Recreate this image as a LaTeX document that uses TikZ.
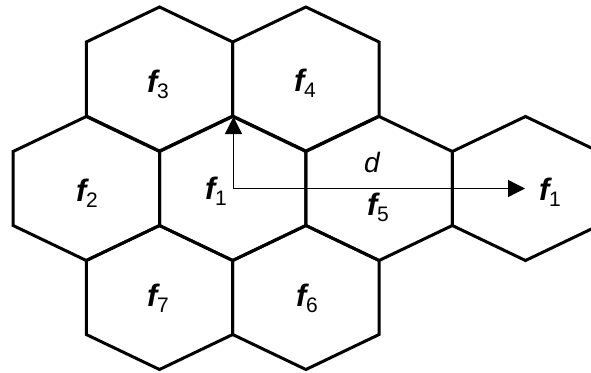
\documentclass[tikz,border=0pt]{standalone}
\usepackage{fontspec}
\setmainfont{Liberation Sans}
\usetikzlibrary{arrows.meta}
\newcommand{\fsub}[1]{{\bfseries\itshape f}\kern-0.5pt\raisebox{-6pt}{\fontsize{21}{21}\selectfont #1}}
\tikzset{hexline/.style={line width=3pt,line join=miter},
  arr/.style={-{Triangle[length=17pt,width=17pt]},line width=1.3pt},
  lbl/.style={anchor=base west,inner sep=0pt,font=\fontsize{31}{33}\selectfont}}

\begin{document}
\begin{tikzpicture}[x=1pt,y=-1pt]
\useasboundingbox (0,0) rectangle (591,372);
\clip (0,0) rectangle (591,372);
% cells
\foreach \cx/\cy in {159.5/79,305.9/79,86.3/188.5,232.7/188.5,379.1/188.5,525.5/188.5,159.5/297.5,305.9/297.5}
  \draw[hexline] (\cx,\cy) ++(0,-72) -- ++(73.2,35) -- ++(0,74) -- ++(-73.2,35)
    -- ++(-73.2,-35) -- ++(0,-74) -- cycle;
% labels
\node[lbl] (f3) at (147,92) {\fsub{3}};
\node[lbl] (f4) at (294,91) {\fsub{4}};
\node[lbl] (f2) at (76,201) {\fsub{2}};
\node[lbl] (f1) at (205,199) {\fsub{1}};
\node[lbl] (f5) at (367,215) {\fsub{5}};
\node[lbl] (f1r) at (539,200) {\fsub{1}};
\node[lbl] (f7) at (147,306) {\fsub{7}};
\node[lbl] (f6) at (296,306) {\fsub{6}};
\node[lbl,font=\fontsize{28}{30}\selectfont] (d) at (364,172) {\itshape d};
% distance
\coordinate (o) at (233.5,188.5);
\coordinate (up) at (233.5,117);
\coordinate (reuse) at (525,188.5);
\draw[arr] (o) -- (up);
\draw[arr] (o) -- (reuse);
\end{tikzpicture}
\end{document}
